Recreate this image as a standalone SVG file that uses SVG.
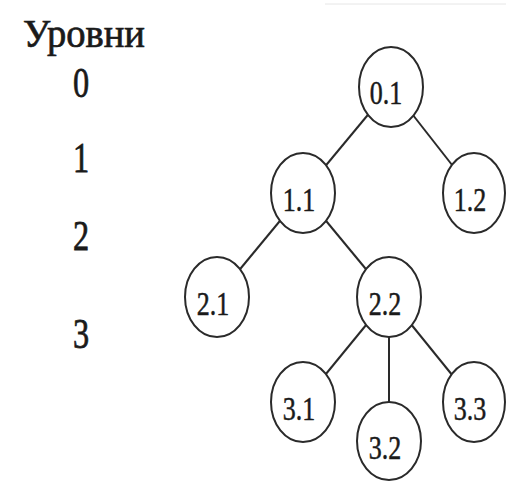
<svg xmlns="http://www.w3.org/2000/svg" width="506" height="481" viewBox="0 0 506 481">
  <style>
    .edge { stroke: #2a2a2a; stroke-width: 2; fill: none; }
    .node ellipse { fill: #fff; stroke: #2a2a2a; stroke-width: 2; }
    .node text, .lvl { font-family: "Liberation Serif", "Times New Roman", serif; fill: #1a1a1a; stroke: #1a1a1a; stroke-width: 0.4; }
    .node text { font-size: 26px; text-anchor: middle; }
    .lvl { font-size: 34px; text-anchor: middle; stroke-width: 0.6; }
  </style>
  <rect width="506" height="481" fill="#fff"/>
  <line x1="325" y1="4" x2="506" y2="4" stroke="#e6e6e6" stroke-width="1"/>

  <!-- level column -->
  <g id="levels">
    <text class="lvl" transform="translate(84,47) scale(1,1.15)" textLength="122" lengthAdjust="spacingAndGlyphs">Уровни</text>
    <text class="lvl" transform="translate(81,97) scale(0.95,1.25)">0</text>
    <text class="lvl" transform="translate(81,172) scale(0.95,1.25)">1</text>
    <text class="lvl" transform="translate(81,250) scale(0.95,1.25)">2</text>
    <text class="lvl" transform="translate(81,348) scale(0.95,1.25)">3</text>
  </g>

  <!-- tree edges, drawn centre to centre beneath the nodes -->
  <g id="connectors">
    <line class="edge" x1="391" y1="87" x2="303" y2="193"/>
    <line class="edge" x1="391" y1="87" x2="474" y2="193"/>
    <line class="edge" x1="303" y1="193" x2="217" y2="297"/>
    <line class="edge" x1="303" y1="193" x2="389" y2="297"/>
    <line class="edge" x1="389" y1="297" x2="303" y2="402"/>
    <line class="edge" x1="389" y1="297" x2="389" y2="441"/>
    <line class="edge" x1="389" y1="297" x2="474" y2="402"/>
  </g>

  <g id="n01" class="node">
    <ellipse cx="391" cy="87" rx="32" ry="40"/>
    <text transform="translate(386,104) scale(1,1.3)">0.1</text>
  </g>
  <g id="n11" class="node">
    <ellipse cx="303" cy="193" rx="32" ry="40"/>
    <text transform="translate(299,211) scale(1,1.3)">1.1</text>
  </g>
  <g id="n12" class="node">
    <ellipse cx="474" cy="193" rx="31" ry="40"/>
    <text transform="translate(470,211) scale(1,1.3)">1.2</text>
  </g>
  <g id="n21" class="node">
    <ellipse cx="217" cy="297" rx="32" ry="40"/>
    <text transform="translate(213,315) scale(1,1.3)">2.1</text>
  </g>
  <g id="n22" class="node">
    <ellipse cx="389" cy="297" rx="32" ry="40"/>
    <text transform="translate(385,315) scale(1,1.3)">2.2</text>
  </g>
  <g id="n31" class="node">
    <ellipse cx="303" cy="402" rx="32" ry="40"/>
    <text transform="translate(299,420) scale(1,1.3)">3.1</text>
  </g>
  <g id="n32" class="node">
    <ellipse cx="389" cy="441" rx="32" ry="39"/>
    <text transform="translate(385,459) scale(1,1.3)">3.2</text>
  </g>
  <g id="n33" class="node">
    <ellipse cx="474" cy="402" rx="31" ry="40"/>
    <text transform="translate(470,420) scale(1,1.3)">3.3</text>
  </g>
</svg>
